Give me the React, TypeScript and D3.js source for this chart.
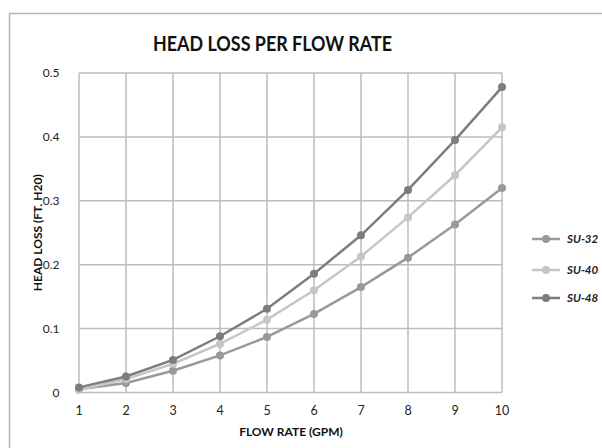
import React from "react";
import * as d3 from "d3";

const flowRates = [1, 2, 3, 4, 5, 6, 7, 8, 9, 10];
const su32 = [0.005, 0.015, 0.034, 0.058, 0.087, 0.123, 0.165, 0.211, 0.263, 0.32];
const su40 = [0.004, 0.021, 0.045, 0.076, 0.114, 0.16, 0.213, 0.274, 0.34, 0.415];
const su48 = [0.008, 0.025, 0.051, 0.088, 0.131, 0.186, 0.246, 0.317, 0.395, 0.478];
const seriesNames = ["SU-32", "SU-40", "SU-48"];
const seriesColors = ["#999999", "#c6c6c6", "#7d7d7d"];
const yTicks = [0, 0.1, 0.2, 0.3, 0.4, 0.5];

const FONT = "Lato, 'Open Sans', sans-serif";

export default function App() {
  const W = 602, H = 448;
  const x = d3.scaleLinear().domain([1, 10]).range([79, 502]);
  const y = d3.scaleLinear().domain([0, 0.5]).range([392.5, 73]);
  const allSeries = [su32, su40, su48];
  const line = d3.line<number>().x((_, i) => x(flowRates[i])).y((d) => y(d));
  const legendY = [239, 270, 298];

  return (
    <svg width={W} height={H} style={{ position: "absolute", left: 0, top: 0, background: "#fff" }}>
      <rect x={9.5} y={13.5} width={640} height={500} fill="#fff" stroke="#b5b5b5" strokeWidth={1.5} />
      <text x={153} y={50.5} textLength={239} lengthAdjust="spacingAndGlyphs" fontFamily={FONT} fontWeight="bold" fontSize={20.5} fill="#111">
        HEAD LOSS PER FLOW RATE
      </text>
      {/* gridlines */}
      {yTicks.map((t) => (
        <line key={"h" + t} x1={x(1)} x2={x(10)} y1={y(t)} y2={y(t)} stroke="#bdbdbd" strokeWidth={1.5} />
      ))}
      {flowRates.map((f) => (
        <line key={"v" + f} x1={x(f)} x2={x(f)} y1={y(0)} y2={y(0.5)} stroke="#bdbdbd" strokeWidth={1.5} />
      ))}
      {/* tick labels */}
      {yTicks.map((t) => (
        <text key={"yl" + t} x={59.5} y={y(t) + 4} textAnchor="end" fontFamily={FONT} fontSize={12} fill="#222">
          {t === 0 ? "0" : d3.format(".1f")(t)}
        </text>
      ))}
      {flowRates.map((f) => (
        <text key={"xl" + f} x={x(f)} y={415} textAnchor="middle" fontFamily={FONT} fontSize={12.5} fill="#222">
          {f}
        </text>
      ))}
      <text x={291} y={436} textAnchor="middle" fontFamily={FONT} fontWeight="bold" fontSize={12} fill="#111">
        FLOW RATE (GPM)
      </text>
      <text transform={`translate(42,${(y(0) + y(0.5)) / 2}) rotate(-90)`} textAnchor="middle" fontFamily={FONT} fontWeight="bold" fontSize={12} fill="#111">
        HEAD LOSS (FT. H20)
      </text>
      {/* series */}
      {allSeries.map((s, si) => (
        <g key={"s" + si}>
          <path d={line(s) || ""} fill="none" stroke={seriesColors[si]} strokeWidth={2.5} />
          {s.map((v, i) => (
            <circle key={i} cx={x(flowRates[i])} cy={y(v)} r={4} fill={seriesColors[si]} />
          ))}
        </g>
      ))}
      {/* legend */}
      {seriesNames.map((n, i) => (
        <g key={"lg" + n}>
          <line x1={532} x2={560} y1={legendY[i]} y2={legendY[i]} stroke={seriesColors[i]} strokeWidth={2.5} />
          <circle cx={546} cy={legendY[i]} r={4} fill={seriesColors[i]} />
          <text x={567} y={legendY[i] + 4} fontFamily={FONT} fontWeight="bold" fontStyle="italic" fontSize={11.5} fill="#222">
            {n}
          </text>
        </g>
      ))}
    </svg>
  );
}
